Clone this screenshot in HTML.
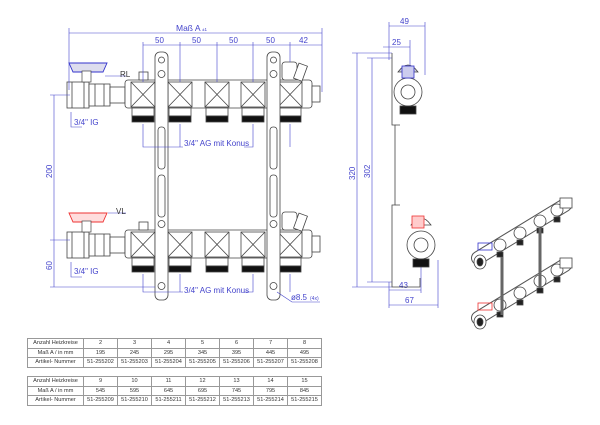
<!DOCTYPE html>
<html><head><meta charset="utf-8"><style>
body{margin:0;background:#fff;width:600px;height:425px;overflow:hidden;font-family:"Liberation Sans",sans-serif}
table{position:absolute;border-collapse:collapse;font-size:5.6px;color:#333;left:27px}
td{border:1px solid #999;text-align:center;height:8.6px;padding:0;width:33px;line-height:8px}
td:first-child{width:55px}
</style></head><body>
<svg width="600" height="425" style="position:absolute;left:0;top:0" font-family="Liberation Sans, sans-serif">
<defs>
<g id="man" stroke="#444" stroke-width="0.8" fill="#fff">
 <rect x="67" y="82" width="22" height="26"/>
 <line x1="72" y1="82" x2="72" y2="108"/><line x1="84" y1="82" x2="84" y2="108"/>
 <rect x="89" y="84" width="21" height="22"/>
 <line x1="95" y1="84" x2="95" y2="106"/><line x1="104" y1="84" x2="104" y2="106"/>
 <rect x="110" y="87" width="15" height="16"/>
 <rect x="125" y="80" width="187" height="28" rx="3"/>
 <rect x="312" y="86" width="8" height="16"/>
 <g id="out">
  <rect x="131" y="82" width="24" height="25" fill="none"/>
  <path d="M131 82L155 107M155 82L131 107" fill="none"/>
  <rect x="132" y="108" width="22" height="8"/>
  <rect x="132" y="116" width="22" height="6" fill="#111"/>
 </g>
 <use href="#out" x="37"/><use href="#out" x="74"/><use href="#out" x="110"/><use href="#out" x="147"/>
 <rect x="139" y="72" width="9" height="8"/>
 <rect x="282" y="62" width="15" height="18" rx="3"/>
 <rect x="296" y="64" width="9" height="16" transform="rotate(20 300 72)"/>
</g>
<g id="brk" stroke="#444" stroke-width="0.8" fill="#fff">
 <rect x="155" y="52" width="13" height="248" rx="5"/>
 <circle cx="161.5" cy="60" r="3"/>
 <circle cx="161.5" cy="74" r="3.5"/>
 <circle cx="161.5" cy="224" r="3.5"/>
 <rect x="158" y="127" width="7" height="42" rx="3"/>
 <rect x="158" y="175" width="7" height="42" rx="3"/>
 <circle cx="161.5" cy="286" r="3.5"/>
</g>
</defs>
<use href="#man"/>
<use href="#man" y="150"/>
<use href="#brk"/>
<use href="#brk" x="112"/>
<!-- handles -->
<path d="M69 63L107 63L103 72L73 72Z" fill="#dde" stroke="#33c" stroke-width="0.9"/>
<rect x="82" y="71" width="9" height="11" fill="#fff" stroke="#444" stroke-width="0.7"/>
<path d="M69 213L107 213L103 222L73 222Z" fill="#fdd" stroke="#e33" stroke-width="0.9"/>
<rect x="82" y="221" width="9" height="11" fill="#fff" stroke="#444" stroke-width="0.7"/>
<!-- dimensions -->
<g stroke="#44c" stroke-width="0.6" fill="none">
 <line x1="69" y1="33" x2="322" y2="33"/><line x1="69" y1="28" x2="69" y2="90"/><line x1="322" y1="28" x2="322" y2="92"/>
 <line x1="143" y1="45" x2="322" y2="45"/>
 <path d="M143 42V82M180 42V82M217 42V82M253 42V82M290 42V62"/>
 <line x1="54" y1="95" x2="54" y2="287"/><line x1="50" y1="95" x2="70" y2="95"/><line x1="50" y1="240" x2="70" y2="240"/><line x1="50" y1="287" x2="155" y2="287"/>
 <path d="M71 112V127H82M71 262V277H82"/>
 <path d="M143 124V147H183M253 124V147H244M180 124V147M290 124V147"/>
 <path d="M143 274V292H183M253 274V292H244M180 274V292M290 274V292"/>
 <path d="M277 292L292 302H320"/>
 <path d="M105 76H126M108 213H126"/>
 <!-- side view dims -->
 <path d="M389 26H425M389 22V60M425 22V75M383 47H410M410 40V70"/>
 <path d="M357 53V287M352 53H392M352 287H392M372 58V282M367 58H392M367 282H392"/>
 <path d="M389 290H421M389 305H438M421 262V293M438 260V308M389 282V308"/>
</g>
<g fill="#44c" font-size="8">
 <text x="176" y="31" font-size="8.5">Maß A</text><text x="202" y="31" font-size="4.5">±1</text>
 <text x="155" y="43">50</text><text x="192" y="43">50</text><text x="229" y="43">50</text><text x="266" y="43">50</text><text x="299" y="43">42</text>
 <text x="120" y="77" fill="#333">RL</text><text x="116" y="214" fill="#333">VL</text>
 <text x="74" y="125">3/4" IG</text><text x="74" y="274">3/4" IG</text>
 <text x="184" y="146">3/4" AG mit Konus</text><text x="184" y="293">3/4" AG mit Konus</text>
 <text x="291" y="300">ø8.5</text><text x="310" y="300" font-size="5">(4x)</text>
 <text transform="translate(52 178) rotate(-90)">200</text>
 <text transform="translate(52 270) rotate(-90)">60</text>
 <text x="400" y="24">49</text><text x="392" y="45">25</text>
 <text transform="translate(355 180) rotate(-90)">320</text>
 <text transform="translate(370 178) rotate(-90)">302</text>
 <text x="399" y="288">43</text><text x="405" y="303">67</text>
</g>
<!-- side view -->
<g stroke="#444" stroke-width="0.8" fill="#fff">
 <path d="M392 53V125H395V205H392V282" fill="none"/>
 <path d="M395 125H400M395 205H400" fill="none"/>
 <circle cx="408" cy="92" r="14"/><circle cx="408" cy="92" r="7"/>
 <path d="M398 72Q408 58 418 72Z" fill="#ccd"/><rect x="402" y="66" width="12" height="12" fill="#cce" stroke="#33c"/>
 <rect x="400" y="106" width="16" height="8" fill="#111"/>
 <circle cx="421" cy="245" r="14"/><circle cx="421" cy="245" r="7"/>
 <path d="M411 225Q421 211 431 225Z"/><rect x="412" y="216" width="12" height="12" fill="#fcc" stroke="#e33"/>
 <rect x="413" y="259" width="16" height="8" fill="#111"/>
 <path d="M392 282V287H420V278" fill="none"/>
</g>
<!-- 3D view -->
<g stroke="#444" stroke-width="0.8">
 <g id="iso">
  <path d="M478 258L565 205" stroke="#555" stroke-width="14" stroke-linecap="round"/>
  <path d="M478 258L565 205" stroke="#fff" stroke-width="12" stroke-linecap="round"/>
  <circle cx="500" cy="245" r="6" fill="#fff"/><circle cx="520" cy="233" r="6" fill="#fff"/><circle cx="540" cy="221" r="6" fill="#fff"/><circle cx="557" cy="210" r="6" fill="#fff"/>
  <rect x="497" y="252" width="6" height="5" fill="#222"/><rect x="517" y="240" width="6" height="5" fill="#222"/><rect x="537" y="228" width="6" height="5" fill="#222"/><rect x="554" y="217" width="6" height="5" fill="#222"/>
  <ellipse cx="480" cy="262" rx="6" ry="7" fill="#fff"/><ellipse cx="480" cy="262" rx="3" ry="4" fill="#222"/>
  <rect x="560" y="198" width="12" height="10" fill="#fff"/>
 </g>
 <use href="#iso" y="60"/>
 <path d="M502 257V315M540 228V288" stroke="#666" stroke-width="3" fill="none"/>
</g>
<rect x="478" y="243" width="14" height="7" fill="none" stroke="#33c" stroke-width="0.8"/>
<rect x="478" y="303" width="14" height="7" fill="none" stroke="#e33" stroke-width="0.8"/>
</svg>
<table style="top:338px">
<tr><td>Anzahl Heizkreise</td><td>2</td><td>3</td><td>4</td><td>5</td><td>6</td><td>7</td><td>8</td></tr>
<tr><td>Maß A / in mm</td><td>195</td><td>245</td><td>295</td><td>345</td><td>395</td><td>445</td><td>495</td></tr>
<tr><td>Artikel- Nummer</td><td>51-255202</td><td>51-255203</td><td>51-255204</td><td>51-255205</td><td>51-255206</td><td>51-255207</td><td>51-255208</td></tr>
</table>
<table style="top:376px">
<tr><td>Anzahl Heizkreise</td><td>9</td><td>10</td><td>11</td><td>12</td><td>13</td><td>14</td><td>15</td></tr>
<tr><td>Maß A / in mm</td><td>545</td><td>595</td><td>645</td><td>695</td><td>745</td><td>795</td><td>845</td></tr>
<tr><td>Artikel- Nummer</td><td>51-255209</td><td>51-255210</td><td>51-255211</td><td>51-255212</td><td>51-255213</td><td>51-255214</td><td>51-255215</td></tr>
</table>
</body></html>
